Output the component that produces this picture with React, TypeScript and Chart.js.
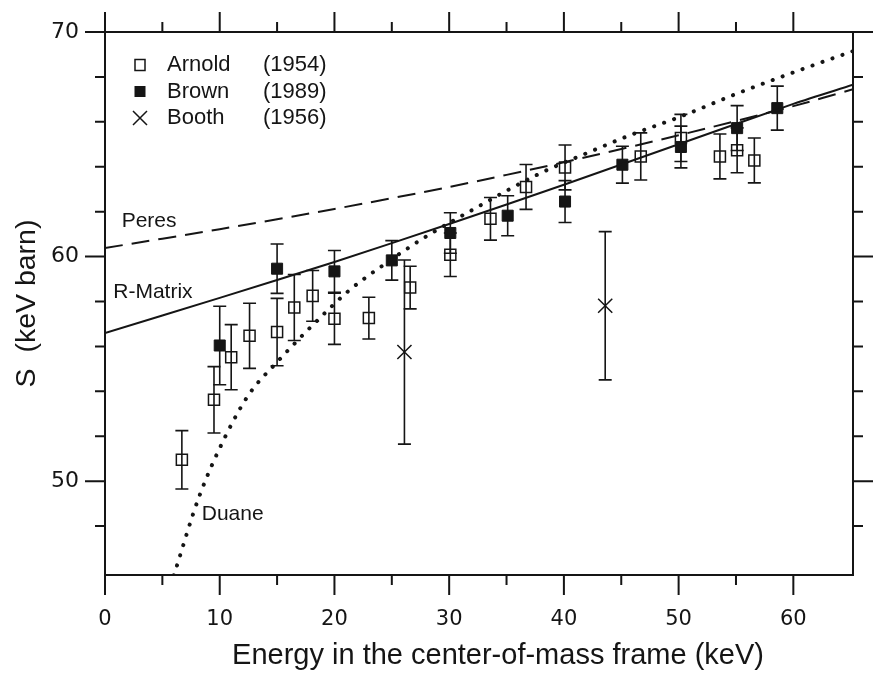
import React, { useEffect, useRef } from 'react';
import { Chart, registerables } from 'chart.js';

Chart.register(...registerables);

// ---------- data ----------
const arnoldEnergy = [6.7, 9.5, 11.0, 12.6, 15.0, 16.5, 18.1, 20.0, 23.0, 26.6, 30.1, 33.6, 36.7, 40.1, 46.7, 50.2, 53.6, 55.1, 56.6];
const arnoldS = [50.95, 53.62, 55.52, 56.47, 56.64, 57.73, 58.25, 57.23, 57.26, 58.62, 60.08, 61.68, 63.1, 63.97, 64.46, 65.28, 64.46, 64.73, 64.28];
const arnoldErr = [1.3, 1.48, 1.45, 1.45, 1.5, 1.47, 1.13, 1.14, 0.93, 0.95, 0.97, 0.95, 1.0, 1.0, 1.05, 1.05, 1.0, 1.0, 1.0];

const brownEnergy = [10.0, 15.0, 20.0, 25.0, 30.1, 35.1, 40.1, 45.1, 50.2, 55.1, 58.6];
const brownS = [56.04, 59.46, 59.34, 59.83, 61.05, 61.82, 62.45, 64.09, 64.88, 65.72, 66.61];
const brownErr = [1.75, 1.1, 0.93, 0.88, 0.9, 0.89, 0.93, 0.82, 0.93, 1.0, 0.98];

const boothEnergy = [26.1, 43.6];
const boothS = [55.75, 57.81];
const boothErr = [4.1, 3.3];

const curveEnergy = [0, 10, 20, 30, 40, 50, 60, 65.2];
const peresS = [60.38, 61.22, 62.12, 63.1, 64.2, 65.4, 66.7, 67.45];
const rMatrixS = [56.59, 58.16, 59.76, 61.45, 63.2, 65.0, 66.8, 67.65];

const duaneEnergy = [6.0, 8.2, 10.6, 12.6, 15.0, 18.4, 21.3, 24.2, 27.7, 32.1, 37.9, 42.2, 46.0, 50.0, 55.3, 60.0, 65.2];
const duaneS = [45.8, 49.3, 52.1, 53.9, 55.3, 57.1, 58.5, 59.6, 60.8, 62.1, 63.7, 64.65, 65.45, 66.2, 67.3, 68.2, 69.15];

const xLabelTicks = [0, 10, 20, 30, 40, 50, 60];
const xMinorTicks = [5, 15, 25, 35, 45, 55];
const yLabelTicks = [50, 60, 70];
const yMinorTicks = [48, 52, 54, 56, 58, 62, 64, 66, 68];

const legendNames = ['Arnold', 'Brown', 'Booth'];
const legendYears = ['(1954)', '(1989)', '(1956)'];

const curveLabels = ['Peres', 'R-Matrix', 'Duane'];
const curveLabelEnergy = [1.45, 0.72, 8.43];
const curveLabelS = [61.56, 58.43, 48.54];

const xTitle = 'Energy in the center-of-mass frame (keV)';
const yTitle = 'S  (keV barn)';

// ---------- styling ----------
const INK = '#151515';
const TEXT_FONT = "'Liberation Sans', Arial, sans-serif";
const TICK_FONT = "'DejaVu Sans', sans-serif";

const toPoints = (xs: number[], ys: number[]) => xs.map((x, i) => ({ x, y: ys[i] }));

function drawMarker(ctx: CanvasRenderingContext2D, kind: string, x: number, y: number) {
  ctx.save();
  ctx.strokeStyle = INK;
  ctx.fillStyle = INK;
  ctx.lineWidth = 1.5;
  if (kind === 'open') {
    ctx.strokeRect(x - 5, y - 5.5, 10, 11);
  } else if (kind === 'filled') {
    ctx.fillRect(x - 5.5, y - 5.5, 11, 11);
  } else {
    ctx.beginPath();
    ctx.moveTo(x - 7, y - 7);
    ctx.lineTo(x + 7, y + 7);
    ctx.moveTo(x - 7, y + 7);
    ctx.lineTo(x + 7, y - 7);
    ctx.stroke();
  }
  ctx.restore();
}

const errorBarPlugin = {
  id: 'errorBars',
  beforeDatasetsDraw(chart: any) {
    const { ctx } = chart;
    const xs = chart.scales.x;
    const ys = chart.scales.y;
    chart.data.datasets.forEach((ds: any) => {
      if (!ds.errors) return;
      ctx.save();
      ctx.strokeStyle = INK;
      ctx.lineWidth = 1.6;
      ds.data.forEach((p: any, j: number) => {
        const px = xs.getPixelForValue(p.x);
        const top = ys.getPixelForValue(p.y + ds.errors[j]);
        const bot = ys.getPixelForValue(p.y - ds.errors[j]);
        ctx.beginPath();
        ctx.moveTo(px, top);
        ctx.lineTo(px, bot);
        ctx.moveTo(px - 6.5, top);
        ctx.lineTo(px + 6.5, top);
        ctx.moveTo(px - 6.5, bot);
        ctx.lineTo(px + 6.5, bot);
        ctx.stroke();
      });
      ctx.restore();
    });
  },
};

const framePlugin = {
  id: 'frameTicks',
  afterDraw(chart: any) {
    const { ctx, chartArea } = chart;
    const { left, right, top, bottom } = chartArea;
    const xs = chart.scales.x;
    const ys = chart.scales.y;
    ctx.save();
    ctx.strokeStyle = INK;
    ctx.lineWidth = 2;
    ctx.beginPath();
    ctx.moveTo(left, top);
    ctx.lineTo(right, top);
    ctx.lineTo(right, bottom);
    ctx.lineTo(left, bottom);
    ctx.closePath();
    const xt = [...xLabelTicks.map((v) => [v, 20]), ...xMinorTicks.map((v) => [v, 10])];
    xt.forEach(([v, len]) => {
      const px = xs.getPixelForValue(v);
      ctx.moveTo(px, bottom);
      ctx.lineTo(px, bottom + len);
      ctx.moveTo(px, top);
      ctx.lineTo(px, top - len);
    });
    const yt = [...yLabelTicks.map((v) => [v, 20]), ...yMinorTicks.map((v) => [v, 10])];
    yt.forEach(([v, len]) => {
      const py = ys.getPixelForValue(v);
      ctx.moveTo(left, py);
      ctx.lineTo(left - len, py);
      ctx.moveTo(right, py);
      ctx.lineTo(right + len, py);
    });
    ctx.stroke();

    // x-axis title (centred slightly right of the plot centre, as in the source figure)
    ctx.fillStyle = INK;
    ctx.font = `29px ${TEXT_FONT}`;
    ctx.textAlign = 'center';
    ctx.textBaseline = 'middle';
    ctx.fillText(xTitle, (left + right) / 2 + 19, bottom + 81);
    ctx.restore();
  },
};

const annotationPlugin = {
  id: 'annotations',
  afterDatasetsDraw(chart: any) {
    const { ctx } = chart;
    const xs = chart.scales.x;
    const ys = chart.scales.y;
    ctx.save();
    ctx.fillStyle = INK;
    ctx.textAlign = 'left';
    ctx.textBaseline = 'middle';
    ctx.font = `21px ${TEXT_FONT}`;
    curveLabels.forEach((t, i) => {
      ctx.fillText(t, xs.getPixelForValue(curveLabelEnergy[i]), ys.getPixelForValue(curveLabelS[i]));
    });
    // legend
    const { left, top } = chart.chartArea;
    const kinds = ['open', 'filled', 'cross'];
    ctx.font = `22px ${TEXT_FONT}`;
    legendNames.forEach((name, i) => {
      const cy = top + 33 + i * 26.5;
      drawMarker(ctx, kinds[i], left + 35, cy);
      ctx.fillText(name, left + 62, cy);
      ctx.fillText(legendYears[i], left + 158, cy);
    });
    ctx.restore();
  },
};

export default function App() {
  const canvasRef = useRef<HTMLCanvasElement | null>(null);

  useEffect(() => {
    if (!canvasRef.current) return;
    const chart = new Chart(canvasRef.current, {
      type: 'scatter',
      data: {
        datasets: [
          {
            type: 'line',
            label: 'Peres',
            data: toPoints(curveEnergy, peresS),
            borderColor: INK,
            borderWidth: 2,
            borderDash: [18, 9],
            pointRadius: 0,
            tension: 0.3,
            fill: false,
          },
          {
            type: 'line',
            label: 'R-Matrix',
            data: toPoints(curveEnergy, rMatrixS),
            borderColor: INK,
            borderWidth: 2,
            pointRadius: 0,
            tension: 0.3,
            fill: false,
          },
          {
            type: 'line',
            label: 'Duane',
            data: toPoints(duaneEnergy, duaneS),
            borderColor: INK,
            borderWidth: 4,
            borderDash: [0.1, 10.5],
            borderCapStyle: 'round',
            pointRadius: 0,
            cubicInterpolationMode: 'monotone',
            fill: false,
          },
          {
            label: 'Arnold (1954)',
            data: toPoints(arnoldEnergy, arnoldS),
            errors: arnoldErr,
            pointStyle: 'rect',
            pointRadius: 7.8,
            borderWidth: 1.5,
            borderColor: INK,
            backgroundColor: 'rgba(0,0,0,0)',
          } as any,
          {
            label: 'Brown (1989)',
            data: toPoints(brownEnergy, brownS),
            errors: brownErr,
            pointStyle: 'rect',
            pointRadius: 7.8,
            borderWidth: 1,
            borderColor: INK,
            backgroundColor: INK,
          } as any,
          {
            label: 'Booth (1956)',
            data: toPoints(boothEnergy, boothS),
            errors: boothErr,
            pointStyle: 'crossRot',
            pointRadius: 10,
            borderWidth: 1.5,
            borderColor: INK,
            backgroundColor: INK,
          } as any,
        ],
      },
      options: {
        responsive: false,
        animation: false,
        layout: { padding: { left: 0, right: 38, top: 32, bottom: 0 } },
        plugins: {
          legend: { display: false },
          tooltip: { enabled: false },
        },
        scales: {
          x: {
            type: 'linear',
            min: 0,
            max: 65.2,
            grid: { display: false },
            border: { display: false },
            afterFit: (s: any) => {
              s.height = 100;
            },
            afterBuildTicks: (s: any) => {
              s.ticks = xLabelTicks.map((v) => ({ value: v }));
            },
            ticks: {
              color: INK,
              padding: 24,
              font: { family: TICK_FONT, size: 21 },
              maxRotation: 0,
            },
            title: { display: false, text: xTitle },
          },
          y: {
            type: 'linear',
            min: 45.82,
            max: 70,
            grid: { display: false },
            border: { display: false },
            afterFit: (s: any) => {
              s.width = 105;
            },
            afterBuildTicks: (s: any) => {
              s.ticks = yLabelTicks.map((v) => ({ value: v }));
            },
            ticks: {
              color: INK,
              padding: 18,
              font: { family: TICK_FONT, size: 22 },
            },
            title: {
              display: true,
              text: yTitle,
              color: INK,
              font: { family: TEXT_FONT, size: 28.5 },
              padding: { top: 10, bottom: 0 },
            },
          },
        },
      } as any,
      plugins: [errorBarPlugin, annotationPlugin, framePlugin],
    });
    return () => chart.destroy();
  }, []);

  return (
    <div style={{ position: 'fixed', left: 0, top: 0, width: 891, height: 675, background: '#fff' }}>
      <canvas ref={canvasRef} width={891} height={675} style={{ display: 'block' }} />
    </div>
  );
}
